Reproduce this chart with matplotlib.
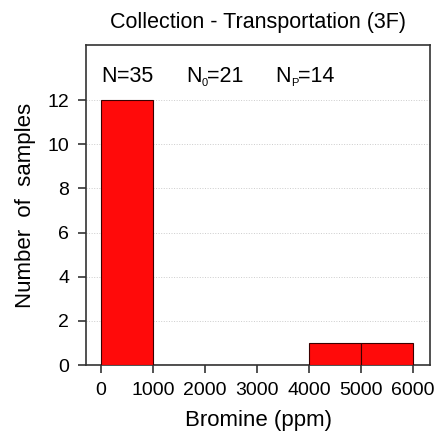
import matplotlib
matplotlib.use("Agg")
import matplotlib.pyplot as plt
import numpy as np

plt.rcdefaults()
plt.rcParams['font.family'] = ['Liberation Sans', 'DejaVu Sans']
plt.rcParams['xtick.major.size'] = 6
plt.rcParams['ytick.major.size'] = 6
plt.rcParams['xtick.major.width'] = 1.2
plt.rcParams['ytick.major.width'] = 1.2

# histogram bins (ppm) and counts
bin_edges = [0, 1000, 2000, 3000, 4000, 5000, 6000]
counts = [12, 0, 0, 0, 1, 1]
x_ticks = [0, 1000, 2000, 3000, 4000, 5000, 6000]
y_ticks = [0, 2, 4, 6, 8, 10, 12]

fig = plt.figure(figsize=(4.36, 4.36), dpi=100)
ax = fig.add_axes([86/436, 71/436, 344/436, 320/436])

ax.hist(bin_edges[:-1], bins=bin_edges, weights=counts,
        color='#ff0a0a', edgecolor='#3a0000', linewidth=0.8, zorder=3)

ax.set_xlim(-290, 6330)
ax.set_ylim(0, 14.5)
ax.set_xticks(x_ticks)
ax.set_yticks(y_ticks)
ax.yaxis.grid(True, linestyle=':', color='#cccccc', linewidth=0.7, zorder=0)
ax.tick_params(labelsize=14, length=6, width=1.2, color='#333333', pad=6,
               direction='out')
for s in ax.spines.values():
    s.set_visible(True)
    s.set_edgecolor('#333333')
    s.set_linewidth(1.2)

ax.set_title('Collection - Transportation (3F)', fontsize=15.5, pad=12)
ax.set_xlabel('Bromine (ppm)', fontsize=16, labelpad=8)
ax.set_ylabel('Number  of  samples', fontsize=16, labelpad=8)

# annotation with small subscripts
def label(x, main, sub, rest):
    t = ax.text(x, 0.935, main, transform=ax.transAxes, fontsize=15.5, va='top')
    fig.canvas.draw()
    bb = t.get_window_extent().transformed(ax.transAxes.inverted())
    xx = bb.x1
    if sub:
        s = ax.text(xx, bb.y0 - 0.005, sub, transform=ax.transAxes, fontsize=8, va='bottom')
        fig.canvas.draw()
        xx = s.get_window_extent().transformed(ax.transAxes.inverted()).x1
    ax.text(xx, 0.935, rest, transform=ax.transAxes, fontsize=15.5, va='top')

label(0.045, 'N', '', '=35')
label(0.29, 'N', '0', '=21')
label(0.55, 'N', 'P', '=14')

fig.savefig('out.png', dpi=100)
